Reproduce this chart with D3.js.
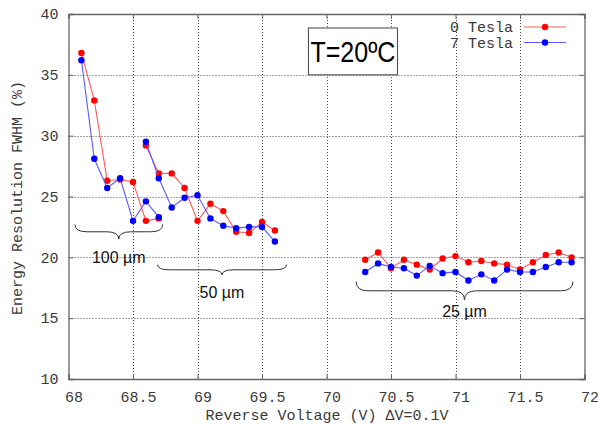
<!DOCTYPE html>
<html>
<head>
<meta charset="utf-8">
<script src="https://cdn.jsdelivr.net/npm/d3@7"></script>
<style>
  body { margin: 0; background: #fff; }
  svg { display: block; }
</style>
</head>
<body>
<svg id="chart" width="598" height="425"></svg>
<script>
// Energy resolution (FWHM, %) versus reverse voltage, three pixel pitches, 0 T and 7 T
const xTicks = [68, 68.5, 69, 69.5, 70, 70.5, 71, 71.5, 72];
const yTicks = [10, 15, 20, 25, 30, 35, 40];

// 100 µm pitch
const v100 = [68.1, 68.2, 68.3, 68.4, 68.5, 68.6, 68.7];
const red100 = [36.8, 32.9, 26.3, 26.4, 26.2, 23.0, 23.2];
const blue100 = [36.2, 28.1, 25.7, 26.5, 23.0, 24.6, 23.3];

// 50 µm pitch
const v50 = [68.6, 68.7, 68.8, 68.9, 69.0, 69.1, 69.2, 69.3, 69.4, 69.5, 69.6];
const red50 = [29.2, 26.9, 26.9, 25.7, 23.0, 24.4, 23.8, 22.1, 22.0, 22.9, 22.2];
const blue50 = [29.5, 26.5, 24.1, 24.9, 25.1, 23.2, 22.6, 22.4, 22.5, 22.5, 21.3];

// 25 µm pitch
const v25 = [70.3, 70.4, 70.5, 70.6, 70.7, 70.8, 70.9, 71.0, 71.1, 71.2, 71.3, 71.4, 71.5, 71.6, 71.7, 71.8, 71.9];
const red25 = [19.8, 20.4, 19.1, 19.8, 19.4, 19.0, 19.9, 20.1, 19.6, 19.7, 19.5, 19.4, 19.0, 19.6, 20.2, 20.4, 20.0];
const blue25 = [18.8, 19.5, 19.2, 19.1, 18.5, 19.3, 18.7, 18.8, 18.1, 18.6, 18.1, 19.0, 18.8, 18.8, 19.2, 19.6, 19.6];

const seriesNames = ["0 Tesla", "7 Tesla"];
const groupLabels = ["100 µm", "50 µm", "25 µm"];
// brace spans: [from V, to V, top of ends, tip value, label baseline value]
const braces = [
  [68.05, 68.73, 22.7, 21.5, 19.5],
  [68.69, 69.69, 19.4, 18.55, 16.65],
  [70.23, 71.91, 18.0, 16.5, 15.1]
];

const svg = d3.select("#chart");
const plotL = 68.5, plotR = 584.5, plotT = 14, plotB = 379;

const x = d3.scaleLinear().domain([68, 72]).range([plotL, plotR]);
const y = d3.scaleLinear().domain([10, 40]).range([plotB, plotT]);

const mono = "'Liberation Mono', 'DejaVu Sans Mono', monospace";
const sans = "'Liberation Sans', Arial, sans-serif";
const textColor = "#3a3a3a";

// grid
const grid = svg.append("g").attr("stroke", "#444").attr("stroke-width", 1).attr("stroke-dasharray", "1,2");
grid.selectAll("line.vx").data(xTicks.slice(1, -1)).join("line")
  .attr("x1", d => Math.round(x(d)) + 0.5).attr("x2", d => Math.round(x(d)) + 0.5)
  .attr("y1", plotT).attr("y2", plotB);
grid.selectAll("line.hy").data(yTicks.slice(1, -1)).join("line")
  .attr("x1", plotL).attr("x2", plotR)
  .attr("y1", d => Math.round(y(d)) + 0.5).attr("y2", d => Math.round(y(d)) + 0.5);

// axes (ticks mirrored on top/right)
const xAxis = svg.append("g").attr("transform", `translate(0,${plotB})`)
  .call(d3.axisBottom(x).tickValues(xTicks).tickSize(-5).tickPadding(12).tickFormat(d3.format("")));
const xAxisTop = svg.append("g").attr("transform", `translate(0,${plotT})`)
  .call(d3.axisTop(x).tickValues(xTicks).tickSize(-5).tickFormat(""));
const yAxis = svg.append("g").attr("transform", `translate(${plotL},0)`)
  .call(d3.axisLeft(y).tickValues(yTicks).tickSize(-5).tickPadding(10));
const yAxisRight = svg.append("g").attr("transform", `translate(${plotR},0)`)
  .call(d3.axisRight(y).tickValues(yTicks).tickSize(-5).tickFormat(""));

[xAxis, xAxisTop, yAxis, yAxisRight].forEach(g => {
  g.select(".domain").attr("stroke", "#666").attr("stroke-width", 1.3);
  g.selectAll(".tick line").attr("stroke", "#666");
  g.selectAll("text").attr("font-family", mono).attr("font-size", 15).attr("fill", textColor);
});
xAxis.selectAll("text").attr("dx", 5);

// axis titles
svg.append("text").attr("x", 327).attr("y", 420).attr("text-anchor", "middle")
  .attr("font-family", mono).attr("font-size", 15).attr("fill", textColor)
  .text("Reverse Voltage (V) ΔV=0.1V");
svg.append("text").attr("transform", "translate(22,198) rotate(-90)").attr("text-anchor", "middle")
  .attr("font-family", mono).attr("font-size", 15).attr("fill", textColor)
  .text("Energy Resolution FWHM (%)");

// series
const colors = { red: { line: "#ff5a5a", dot: "#ff0000" }, blue: { line: "#5a5aff", dot: "#0000ff" } };
const groups = [
  [v100, red100, "red"], [v100, blue100, "blue"],
  [v50, red50, "red"], [v50, blue50, "blue"],
  [v25, red25, "red"], [v25, blue25, "blue"]
];
const line = d3.line().x(d => x(d[0])).y(d => y(d[1]));
// draw red first so blue sits on top
["red", "blue"].forEach(c => {
  groups.filter(g => g[2] === c).forEach(([vs, vals]) => {
    const pts = vs.map((v, i) => [v, vals[i]]);
    svg.append("path").datum(pts).attr("d", line)
      .attr("fill", "none").attr("stroke", colors[c].line).attr("stroke-width", 1.1);
    svg.append("g").selectAll("circle").data(pts).join("circle")
      .attr("cx", d => x(d[0])).attr("cy", d => y(d[1])).attr("r", 3.2)
      .attr("fill", colors[c].dot);
  });
});

// braces
braces.forEach(([a, b, yEnd, yTip, yLab], i) => {
  const x0 = x(a), x1 = x(b), xm = (x0 + x1) / 2;
  const ye = y(yEnd), yt = y(yTip), ym = (ye + yt) / 2;
  const r = 12;
  const p = d3.path();
  p.moveTo(x0, ye);
  p.quadraticCurveTo(x0, ym, x0 + r, ym);
  p.lineTo(xm - r, ym);
  p.quadraticCurveTo(xm, ym, xm, yt);
  p.quadraticCurveTo(xm, ym, xm + r, ym);
  p.lineTo(x1 - r, ym);
  p.quadraticCurveTo(x1, ym, x1, ye);
  svg.append("path").attr("d", p.toString()).attr("fill", "none")
    .attr("stroke", "#333").attr("stroke-width", 1);
  svg.append("text").attr("x", xm).attr("y", y(yLab)).attr("text-anchor", "middle")
    .attr("font-family", sans).attr("font-size", 16).attr("fill", "#111")
    .text(groupLabels[i]);
});

// temperature box
const bx0 = x(69.86), bx1 = x(70.55), by0 = y(38.85), by1 = y(35.0);
svg.append("rect").attr("x", bx0).attr("y", by0).attr("width", bx1 - bx0).attr("height", by1 - by0)
  .attr("fill", "#fff").attr("stroke", "#444").attr("stroke-width", 1);
svg.append("text").attr("x", (bx0 + bx1) / 2).attr("y", by0 + 34).attr("text-anchor", "middle")
  .attr("font-family", sans).attr("font-size", 29).attr("fill", "#000")
  .attr("textLength", 85).attr("lengthAdjust", "spacingAndGlyphs")
  .text("T=20ºC");

// legend
const legend = svg.append("g");
[["red", 27], ["blue", 42.5]].forEach(([c, ly], i) => {
  legend.append("text").attr("x", 513).attr("y", ly + 5).attr("text-anchor", "end")
    .attr("font-family", mono).attr("font-size", 15).attr("fill", textColor)
    .text(seriesNames[i]);
  legend.append("line").attr("x1", 524).attr("x2", 566).attr("y1", ly).attr("y2", ly)
    .attr("stroke", colors[c].line).attr("stroke-width", 1.1);
  legend.append("circle").attr("cx", 545).attr("cy", ly).attr("r", 3.2).attr("fill", colors[c].dot);
});
</script>
</body>
</html>
